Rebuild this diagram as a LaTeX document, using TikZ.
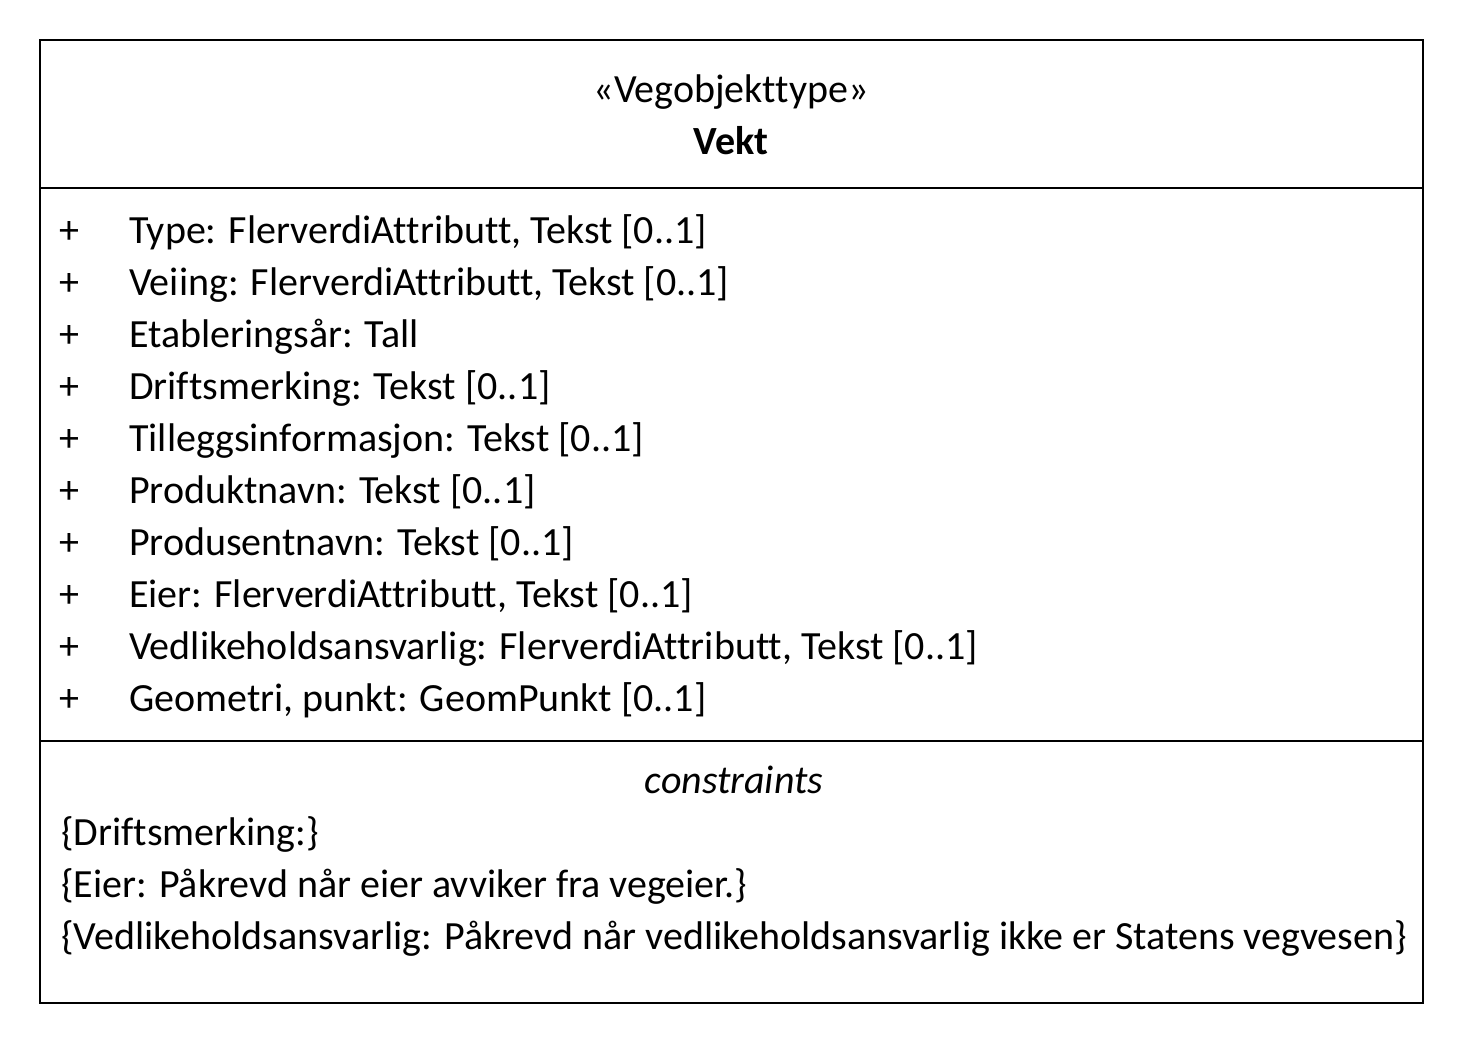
\documentclass[tikz,border=0pt]{standalone}
\usepackage{fontspec}
\setmainfont[Ligatures={NoCommon}]{Carlito}
\begin{document}
\begin{tikzpicture}[x=1pt,y=-1pt,
  txt/.style={inner sep=0pt,anchor=base west,font=\fontsize{40}{46}\selectfont},
  ctr/.style={inner sep=0pt,anchor=base,font=\fontsize{40}{46}\selectfont},
  frame/.style={draw=black,line width=1.3pt}]
\useasboundingbox (0,0) rectangle (1464,1044);
% class box and compartment dividers
\draw[frame] (40,40) rectangle (1423,1003);
\coordinate (d1l) at (40,188);
\coordinate (d1r) at (1423,188);
\coordinate (d2l) at (40,741);
\coordinate (d2r) at (1423,741);
\draw[frame] (d1l) -- (d1r);
\draw[frame] (d2l) -- (d2r);
% header
\node[ctr] (stereo) at (731,102) {«Vegobjekttype»};
\node[ctr,font=\fontsize{40}{46}\selectfont\bfseries] (name) at (731,154) {Vekt};
% attributes
\foreach \t [count=\i from 0] in {
  {Type: FlerverdiAttributt, Tekst [0..1]},
  {Veiing: FlerverdiAttributt, Tekst [0..1]},
  {Etableringsår: Tall},
  {Driftsmerking: Tekst [0..1]},
  {Tilleggsinformasjon: Tekst [0..1]},
  {Produktnavn: Tekst [0..1]},
  {Produsentnavn: Tekst [0..1]},
  {Eier: FlerverdiAttributt, Tekst [0..1]},
  {Vedlikeholdsansvarlig: FlerverdiAttributt, Tekst [0..1]},
  {Geometri, punkt: GeomPunkt [0..1]}}{
  \node[ctr] (vis\i) at (69,243+52*\i) {+};
  \node[txt] (attr\i) at (129,243+52*\i) {\t};
}
% constraints
\node[ctr,font=\fontsize{40}{46}\selectfont\itshape] (ctitle) at (734,793) {constraints};
\node[txt] (c1) at (61,845) {\{Driftsmerking:\}};
\node[txt] (c2) at (61,897) {\{Eier: Påkrevd når eier avviker fra vegeier.\}};
\node[txt] (c3) at (61,949) {\{Vedlikeholdsansvarlig: Påkrevd når vedlikeholdsansvarlig ikke er Statens vegvesen\}};
\end{tikzpicture}
\end{document}
